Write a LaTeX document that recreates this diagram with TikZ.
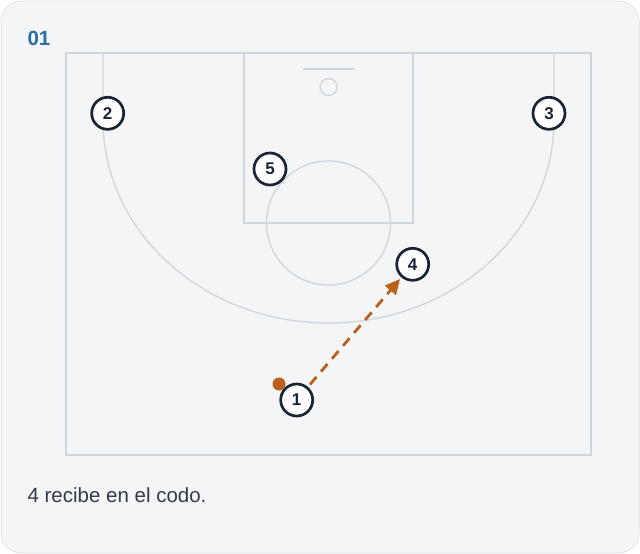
\documentclass[tikz,border=0pt]{standalone}
\usepackage{fontspec}
\setmainfont{Liberation Sans}
\usepackage{tikz}
\usetikzlibrary{arrows.meta}
\definecolor{cardbg}{HTML}{F3F5F7}
\definecolor{cardline}{HTML}{E4E8EC}
\definecolor{courtline}{HTML}{CED6DE}
\definecolor{navy}{HTML}{1B2436}
\definecolor{captext}{HTML}{353B47}
\definecolor{titleblue}{HTML}{2A6EA6}
\definecolor{ballc}{HTML}{B9601C}
\tikzset{
  court/.style={draw=courtline, line width=1.3pt},
  player/.style={circle, draw=navy, line width=2.7pt, fill=white, minimum size=32pt,
    inner sep=0pt, text=navy, font=\bfseries\fontsize{17}{17}\selectfont},
  ball/.style={circle, fill=ballc, minimum size=13pt, inner sep=0pt},
  pass/.style={draw=ballc, line width=2.8pt, dash pattern=on 10pt off 7pt,
    -{Triangle[length=15pt,width=14pt]}, shorten <=3pt, shorten >=2pt}
}

\begin{document}
\begin{tikzpicture}[x=1pt,y=-1pt]
\useasboundingbox (0,0) rectangle (640,554);
\draw[fill=cardbg, draw=cardline, line width=1pt, rounded corners=20pt] (1,1) rectangle (639,553);
\draw[court] (66,53) rectangle (591,455);
\draw[court] (244,53) rectangle (413,223);
\draw[court] (303,69) -- (354,69);
\draw[court] (328.5,87) circle (8.5);
\draw[court] (328.5,223) circle (62);
\draw[court] (103,53) -- (103,120) arc[start angle=180, end angle=0, x radius=225.5, y radius=203] -- (554,53);
\node[anchor=base west, text=titleblue, font=\bfseries\fontsize{20.5}{24}\selectfont] (title) at (24,45) {01};
\node[ball] (ball) at (279,384) {};
\node[player] (p1) at (296.7,400) {1};
\node[player] (p2) at (107.7,113.3) {2};
\node[player] (p3) at (549,113.3) {3};
\node[player] (p4) at (412.7,264.3) {4};
\node[player] (p5) at (270,169) {5};
\draw[pass] (p1) -- (p4);
\node[anchor=base west, text=captext, font=\fontsize{20.5}{24}\selectfont] (caption) at (24,502) {4 recibe en el codo.};
\end{tikzpicture}
\end{document}
